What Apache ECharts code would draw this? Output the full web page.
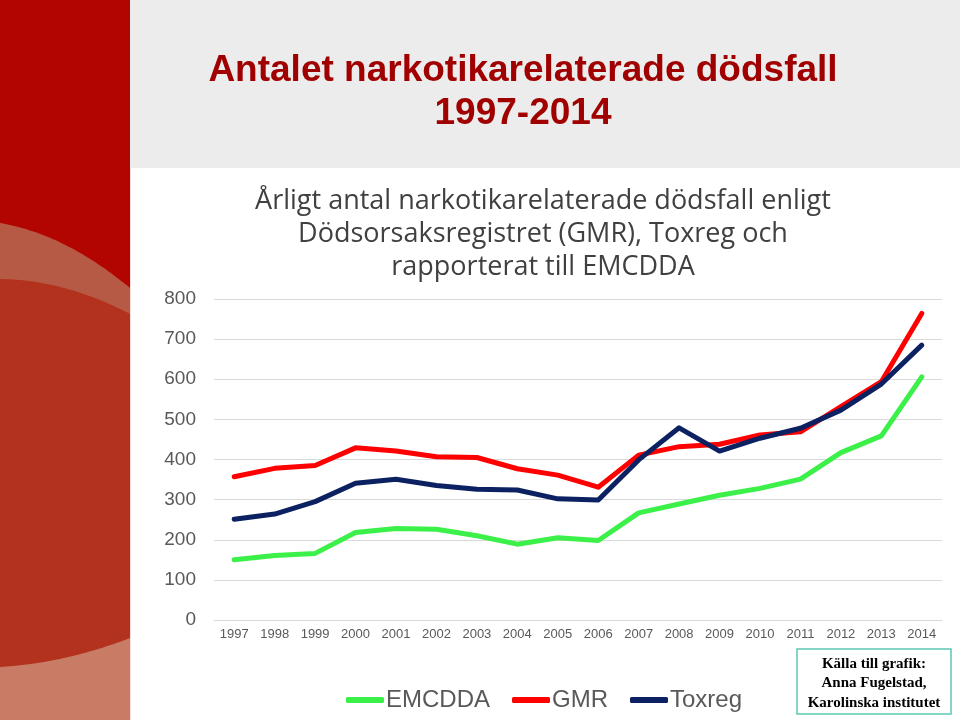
<!DOCTYPE html>
<html>
<head>
<meta charset="utf-8">
<script src="https://cdn.jsdelivr.net/npm/echarts@6/dist/echarts.min.js"></script>
<style>
html,body{margin:0;padding:0;background:#fff;}
#main{width:960px;height:720px;}
</style>
</head>
<body>
<div id="main"></div>
<script>
const years = ['1997','1998','1999','2000','2001','2002','2003','2004','2005','2006','2007','2008','2009','2010','2011','2012','2013','2014'];
const emcdda = [150,161,166,218,228,226,210,189,205,198,267,289,311,328,351,417,459,606];
const gmr = [357,378,385,429,421,407,405,377,361,331,411,432,438,461,469,532,594,764];
const toxreg = [251,264,295,341,351,335,326,324,302,299,399,479,421,453,478,523,588,685];
const yTicks = [0,100,200,300,400,500,600,700,800];

// decorative side-panel shape: region below a quadratic curve down to the bottom
function curveRegion(x0, y0, cx, cy, x1, y1) {
  const pts = [];
  for (let i = 0; i <= 40; i++) {
    const t = i / 40;
    const x = (1-t)*(1-t)*x0 + 2*(1-t)*t*cx + t*t*x1;
    const y = (1-t)*(1-t)*y0 + 2*(1-t)*t*cy + t*t*y1;
    pts.push([x, y]);
  }
  pts.push([x1, 720]);
  pts.push([x0, 720]);
  return pts;
}

const chart = echarts.init(document.getElementById('main'), null, {renderer:'canvas'});
const option = {
  backgroundColor: '#ffffff',
  animation: false,
  title: [
    {
      text: 'Antalet narkotikarelaterade dödsfall\n1997-2014',
      left: 518, top: 44, textAlign: 'center',
      textStyle: {fontFamily: 'Liberation Sans, Arial, sans-serif', fontSize: 37, fontWeight: 'bold', color: '#a00000', lineHeight: 43}
    },
    {
      text: 'Årligt antal narkotikarelaterade dödsfall enligt\nDödsorsaksregistret (GMR), Toxreg och\nrapporterat till EMCDDA',
      left: 538, top: 180, textAlign: 'center',
      textStyle: {fontFamily: 'Open Sans, Liberation Sans, sans-serif', fontSize: 27, fontWeight: 'normal', color: '#404040', lineHeight: 33}
    }
  ],
  graphic: [
    {type:'rect', z:-10, shape:{x:130,y:0,width:830,height:168}, style:{fill:'#ececec'}},
    {type:'rect', z:-10, shape:{x:0,y:0,width:130,height:720}, style:{fill:'#b30500'}},
    {type:'polygon', z:-9, shape:{points: curveRegion(0,223,65,234,130,288)}, style:{fill:'#b65a46'}},
    {type:'polygon', z:-8, shape:{points: curveRegion(0,279,65,280,130,314)}, style:{fill:'#b2321e'}},
    {type:'polygon', z:-7, shape:{points: curveRegion(0,667,65,663,130,638)}, style:{fill:'#c87c66'}},
    {type:'rect', z:-6, shape:{x:130,y:168,width:1,height:552}, style:{fill:'#f3dcdc'}},
    {type:'rect', z:10, shape:{x:797,y:649,width:154,height:65}, style:{fill:'#ffffff', stroke:'#5cc8b4', lineWidth:1.5}},
    {type:'text', z:11, x:874, y:654, style:{text:'Källa till grafik:\nAnna Fugelstad,\nKarolinska institutet', align:'center', verticalAlign:'top', fontFamily:'Liberation Serif, Times New Roman, serif', fontWeight:'bold', fontSize:15, lineHeight:19.5, fill:'#000000'}}
  ],
  legend: {
    data: ['EMCDDA','GMR','Toxreg'],
    left: 341, top: 683,
    icon: 'roundRect',
    itemWidth: 38, itemHeight: 6, itemGap: 22,
    textStyle: {fontFamily: 'Liberation Sans, Arial, sans-serif', fontSize: 24, color: '#595959', padding:[0,0,0,-3]}
  },
  grid: {left: 214, right: 18, top: 299, bottom: 100, containLabel: false},
  xAxis: {
    type: 'category', data: years, boundaryGap: true,
    axisLine: {show: true, lineStyle: {color: '#d9d9d9', width: 1}},
    axisTick: {show: false},
    axisLabel: {fontFamily: 'Liberation Sans, Arial, sans-serif', fontSize: 13, color: '#595959', margin: 8, interval: 0}
  },
  yAxis: {
    type: 'value', min: 0, max: 800, interval: 100,
    axisLine: {show: false}, axisTick: {show: false},
    splitLine: {lineStyle: {color: '#d9d9d9', width: 1}},
    axisLabel: {fontFamily: 'Liberation Sans, Arial, sans-serif', fontSize: 19, color: '#595959', margin: 18,
      formatter: function(v){ return yTicks.indexOf(v) >= 0 ? String(v) : ''; }}
  },
  series: [
    {name:'EMCDDA', type:'line', data: emcdda, symbol:'none', color:'#3cf04a',
     lineStyle:{width:5, color:'#3cf04a', cap:'round', join:'round'}},
    {name:'GMR', type:'line', data: gmr, symbol:'none', color:'#ff0000',
     lineStyle:{width:5, color:'#ff0000', cap:'round', join:'round'}},
    {name:'Toxreg', type:'line', data: toxreg, symbol:'none', color:'#0c2161',
     lineStyle:{width:5, color:'#0c2161', cap:'round', join:'round'}}
  ]
};
chart.setOption(option);
</script>
</body>
</html>
